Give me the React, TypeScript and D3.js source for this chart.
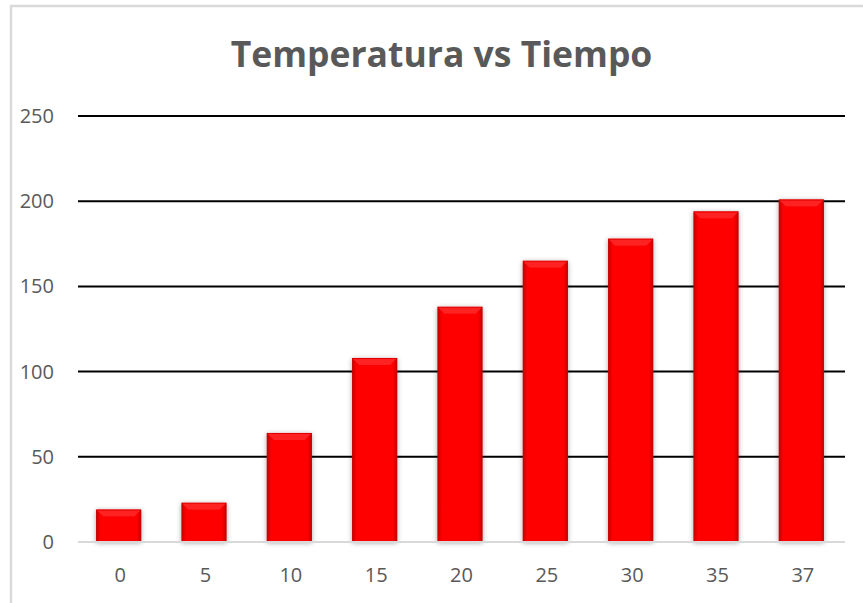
import React, { useEffect, useRef } from "react";
import * as d3 from "d3";

const categories = ["0", "5", "10", "15", "20", "25", "30", "35", "37"];
const temperaturas = [19, 23, 64, 108, 138, 165, 178, 194, 201];
const yTicks = [0, 50, 100, 150, 200, 250];
const title = "Temperatura vs Tiempo";

const W = 863;
const H = 603;

const App = () => {
  const ref = useRef(null);

  useEffect(() => {
    const svg = d3.select(ref.current);
    svg.selectAll("*").remove();

    const margin = { top: 116, right: 18, bottom: 61, left: 78 };
    const font = "'Open Sans', 'Noto Sans', sans-serif";

    const defs = svg.append("defs");
    const grad = defs
      .append("linearGradient")
      .attr("id", "barGrad")
      .attr("x1", 0)
      .attr("x2", 1)
      .attr("y1", 0)
      .attr("y2", 0);
    grad.append("stop").attr("offset", "0%").attr("stop-color", "#c00000");
    grad.append("stop").attr("offset", "10%").attr("stop-color", "#ff0000");
    grad.append("stop").attr("offset", "90%").attr("stop-color", "#ff0000");
    grad.append("stop").attr("offset", "100%").attr("stop-color", "#c00000");

    const shadow = defs
      .append("filter")
      .attr("id", "shadow")
      .attr("x", "-30%")
      .attr("y", "-10%")
      .attr("width", "160%")
      .attr("height", "130%");
    shadow
      .append("feDropShadow")
      .attr("dx", 0)
      .attr("dy", 1)
      .attr("stdDeviation", 2.5)
      .attr("flood-color", "#000")
      .attr("flood-opacity", 0.35);

    // chart area border
    svg
      .append("rect")
      .attr("x", 11)
      .attr("y", 6)
      .attr("width", W + 20)
      .attr("height", H + 20)
      .attr("fill", "#fff")
      .attr("stroke", "#d9d9d9")
      .attr("stroke-width", 2.5);

    // bars sit a touch left of the gridline span
    const x = d3
      .scaleBand()
      .domain(categories)
      .range([margin.left - 2, W - margin.right - 1])
      .paddingInner(0.47)
      .paddingOuter(0.235);

    const y = d3
      .scaleLinear()
      .domain([0, 250])
      .range([H - margin.bottom, margin.top]);

    // gridlines
    svg
      .append("g")
      .selectAll("line")
      .data(yTicks.filter(d => d > 0))
      .join("line")
      .attr("x1", margin.left)
      .attr("x2", W - margin.right)
      .attr("y1", d => y(d))
      .attr("y2", d => y(d))
      .attr("stroke", "#000")
      .attr("stroke-width", 2);

    // y labels
    svg
      .append("g")
      .selectAll("text")
      .data(yTicks)
      .join("text")
      .attr("x", 54)
      .attr("y", d => y(d))
      .attr("dy", "0.35em")
      .attr("text-anchor", "end")
      .attr("font-family", font)
      .attr("font-size", 20)
      .attr("fill", "#595959")
      .text(d => d);

    // bars
    const bars = svg
      .append("g")
      .selectAll("g")
      .data(temperaturas)
      .join("g")
      .attr("filter", "url(#shadow)");

    bars
      .append("rect")
      .attr("x", (d, i) => x(categories[i]))
      .attr("y", d => y(d))
      .attr("width", x.bandwidth())
      .attr("height", d => y(0) - y(d))
      .attr("fill", "url(#barGrad)");

    // top bevel
    const bev = 7;
    bars
      .append("path")
      .attr("d", (d, i) => {
        const x0 = x(categories[i]);
        const x1 = x0 + x.bandwidth();
        const t = y(d);
        return `M${x0},${t}L${x1},${t}L${x1 - bev},${t + bev}L${x0 + bev},${t + bev}Z`;
      })
      .attr("fill", "#e00000");
    bars
      .append("path")
      .attr("d", (d, i) => {
        const x0 = x(categories[i]);
        const x1 = x0 + x.bandwidth();
        const t = y(d);
        return `M${x0 + 1},${t + 1}L${x1 - 1},${t + 1}L${x1 - bev},${t + bev}L${x0 + bev},${t + bev}Z`;
      })
      .attr("fill", "#ff2020");

    // zero line
    svg
      .append("line")
      .attr("x1", margin.left)
      .attr("x2", W - margin.right)
      .attr("y1", y(0))
      .attr("y2", y(0))
      .attr("stroke", "#d9d9d9")
      .attr("stroke-width", 2);

    // x labels
    svg
      .append("g")
      .selectAll("text")
      .data(categories)
      .join("text")
      .attr("x", d => x(d) + x.bandwidth() / 2 + 1.5)
      .attr("y", 582)
      .attr("text-anchor", "middle")
      .attr("font-family", font)
      .attr("font-size", 20)
      .attr("fill", "#595959")
      .text(d => d);

    svg
      .append("text")
      .attr("x", 441.5)
      .attr("y", 67)
      .attr("text-anchor", "middle")
      .attr("font-family", font)
      .attr("font-weight", "bold")
      .attr("font-size", 35.5)
      .attr("fill", "#595959")
      .text(title);
  }, []);

  return (
    <svg
      ref={ref}
      width={W}
      height={H}
      style={{ position: "absolute", left: 0, top: 0, display: "block" }}
    />
  );
};

export default App;
